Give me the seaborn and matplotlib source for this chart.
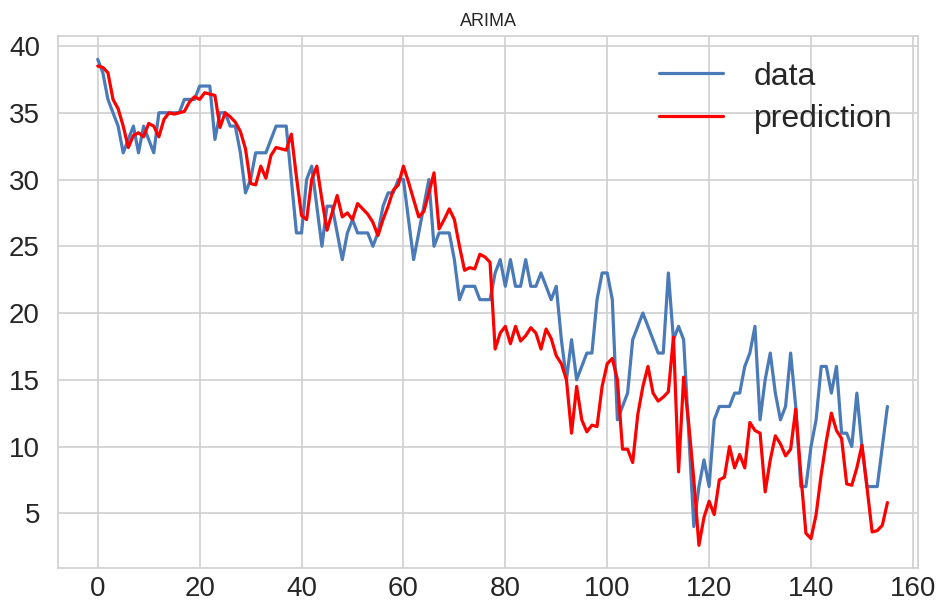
import numpy as np
import pandas as pd
import matplotlib
matplotlib.use("Agg")
import matplotlib.pyplot as plt
import seaborn as sns

data = [39, 38, 36, 35, 34, 32, 33, 34, 32, 34,
        33, 32, 35, 35, 35, 35, 35, 36, 36, 36,
        37, 37, 37, 33, 35, 35, 34, 34, 32, 29,
        30, 32, 32, 32, 33, 34, 34, 34, 30, 26,
        26, 30, 31, 28, 25, 28, 28, 26, 24, 26,
        27, 26, 26, 26, 25, 26, 28, 29, 29, 30,
        30, 27, 24, 26, 28, 30, 25, 26, 26, 26,
        24, 21, 22, 22, 22, 21, 21, 21, 23, 24,
        22, 24, 22, 22, 24, 22, 22, 23, 22, 21,
        22, 18, 15, 18, 15, 16, 17, 17, 21, 23,
        23, 21, 12, 13, 14, 18, 19, 20, 19, 18,
        17, 17, 23, 18, 19, 18, 11, 4, 7, 9,
        7, 12, 13, 13, 13, 14, 14, 16, 17, 19,
        12, 15, 17, 14, 12, 13, 17, 13, 7, 7,
        10, 12, 16, 16, 14, 16, 11, 11, 10, 14,
        10, 7, 7, 7, 10, 13]

prediction = [38.5, 38.4, 38.0, 36.0, 35.3, 34.0, 32.4, 33.3, 33.5, 33.2,
              34.2, 34.0, 33.2, 34.5, 35.0, 34.9, 35.0, 35.1, 35.8, 36.2,
              36.0, 36.5, 36.4, 36.3, 33.9, 35.0, 34.7, 34.3, 33.6, 32.3,
              29.7, 29.6, 31.0, 30.1, 31.8, 32.4, 32.3, 32.2, 33.4, 30.2,
              27.3, 27.0, 30.0, 31.0, 28.5, 26.2, 27.5, 28.8, 27.2, 27.5,
              27.0, 28.2, 27.8, 27.4, 26.8, 25.8, 27.0, 28.0, 29.2, 29.6,
              31.0, 29.8, 28.5, 27.2, 27.6, 29.0, 30.5, 26.3, 27.0, 27.8,
              27.0, 25.0, 23.2, 23.4, 23.3, 24.4, 24.2, 23.8, 17.3, 18.5,
              19.0, 17.7, 19.0, 17.9, 18.3, 18.9, 18.5, 17.3, 18.8, 18.1,
              16.8, 16.2, 15.0, 11.0, 14.5, 12.0, 11.1, 11.6, 11.5, 14.5,
              16.2, 16.6, 15.0, 9.8, 9.8, 8.8, 12.4, 14.5, 16.0, 14.0,
              13.4, 13.7, 14.1, 18.2, 8.1, 15.2, 11.7, 7.5, 2.6, 4.7,
              5.9, 4.9, 7.5, 7.7, 10.0, 8.4, 9.4, 8.4, 11.8, 11.2,
              11.0, 6.6, 9.0, 10.8, 10.2, 9.3, 9.8, 12.8, 7.9, 3.5,
              3.1, 4.9, 7.9, 10.4, 12.5, 11.2, 10.6, 7.2, 7.1, 8.4,
              10.1, 6.9, 3.6, 3.7, 4.1, 5.8]

index = list(range(len(data)))
x_ticks = [0, 20, 40, 60, 80, 100, 120, 140, 160]
y_ticks = [5, 10, 15, 20, 25, 30, 35, 40]
title = "ARIMA"

sns.set_theme(style="whitegrid")
plt.rcParams["font.family"] = ["Liberation Sans", "DejaVu Sans"]

fig = plt.figure(figsize=(9.41, 6.05), dpi=100)
ax = fig.add_axes([58 / 941, 1 - 568 / 605, (918 - 58) / 941, (568 - 36) / 605])

df_data = pd.DataFrame({"t": index, "v": data})
df_pred = pd.DataFrame({"t": index, "v": prediction})

sns.lineplot(data=df_data, x="t", y="v", ax=ax, color="#4a7ab8", lw=2.3, label="data")
sns.lineplot(data=df_pred, x="t", y="v", ax=ax, color="#ff0000", lw=2.3, label="prediction")

ax.set_xlim(-7.8, 161)
ax.set_ylim(0.9, 40.75)
ax.set_xticks(x_ticks)
ax.set_yticks(y_ticks)
ax.set_xlabel("")
ax.set_ylabel("")
ax.set_title(title, fontsize=13, color="#262626", pad=7)
ax.tick_params(axis="both", labelsize=20, colors="#262626")
ax.tick_params(axis="x", pad=0)
ax.tick_params(axis="y", pad=7)
for s in ax.spines.values():
    s.set_color("#d0d0d0")
ax.grid(color="#d0d0d0", lw=1.2)

ax.legend(loc="upper right", fontsize=23, frameon=False, handlelength=2.0,
          handletextpad=0.95, labelspacing=0.4, borderaxespad=0.4)

fig.savefig("out.png", dpi=100)
